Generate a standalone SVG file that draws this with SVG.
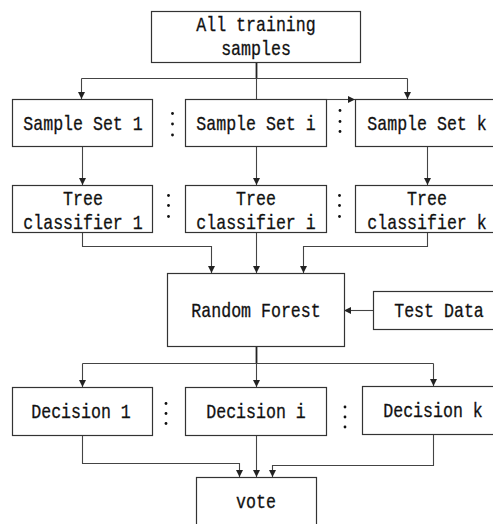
<svg xmlns="http://www.w3.org/2000/svg" width="493" height="524" viewBox="0 0 493 524">
<style>
.box{fill:#fff;stroke:#333;stroke-width:1.2}
.t{font-family:"Liberation Mono",monospace;font-size:20px;fill:#111;stroke:#111;stroke-width:0.3;text-anchor:middle}
.c{fill:none;stroke:#444;stroke-width:1.1}
.s{fill:none;stroke:#222;stroke-width:1.8}
.dot{fill:#111}
</style>
<defs>
<marker id="ah" viewBox="0 0 8 8" refX="8" refY="4" markerWidth="7" markerHeight="7" markerUnits="userSpaceOnUse" orient="auto">
<path d="M0,0 L8,4 L0,8 Z" fill="#222"/>
</marker>
</defs>
<g id="connectors">
<line class="s" x1="256.5" y1="63" x2="256.5" y2="78.5"/>
<line class="c" x1="81.5" y1="78.5" x2="407.5" y2="78.5"/>
<line class="c" x1="81.5" y1="78.5" x2="81.5" y2="99" marker-end="url(#ah)"/>
<line class="c" x1="407.5" y1="78.5" x2="407.5" y2="99" marker-end="url(#ah)"/>
<line class="c" x1="256.5" y1="78.5" x2="256.5" y2="99"/>
<line class="c" x1="327" y1="99.5" x2="355" y2="99.5" marker-end="url(#ah)"/>
<line class="c" x1="82.5" y1="147" x2="82.5" y2="185" marker-end="url(#ah)"/>
<line class="c" x1="256.5" y1="147" x2="256.5" y2="185" marker-end="url(#ah)"/>
<line class="c" x1="427.5" y1="147" x2="427.5" y2="185" marker-end="url(#ah)"/>
<polyline class="c" points="82.5,233 82.5,246.5 211.5,246.5 211.5,273" marker-end="url(#ah)"/>
<line class="c" x1="256.5" y1="233" x2="256.5" y2="273" marker-end="url(#ah)"/>
<polyline class="c" points="427.5,233 427.5,246.5 303.5,246.5 303.5,273" marker-end="url(#ah)"/>
<line class="c" x1="373" y1="310.5" x2="344" y2="310.5" marker-end="url(#ah)"/>
<line class="s" x1="256.5" y1="347" x2="256.5" y2="363.5"/>
<line class="c" x1="82.5" y1="363.5" x2="433.5" y2="363.5"/>
<line class="c" x1="82.5" y1="363.5" x2="82.5" y2="387" marker-end="url(#ah)"/>
<line class="c" x1="256.5" y1="363.5" x2="256.5" y2="387" marker-end="url(#ah)"/>
<line class="c" x1="433.5" y1="363.5" x2="433.5" y2="386" marker-end="url(#ah)"/>
<polyline class="c" points="82.5,436 82.5,463.5 239.5,463.5 239.5,477" marker-end="url(#ah)"/>
<line class="c" x1="256.5" y1="436" x2="256.5" y2="477" marker-end="url(#ah)"/>
<polyline class="c" points="433.5,434 433.5,465.5 272.5,465.5 272.5,477" marker-end="url(#ah)"/>
</g>
<g id="all-training">
<rect class="box" x="151.5" y="11.5" width="209" height="51"/>
<text class="t" transform="translate(256,31) scale(0.83,1)">All training</text>
<text class="t" transform="translate(256,55) scale(0.83,1)">samples</text>
</g>
<g id="sample-set-1">
<rect class="box" x="12.5" y="99.5" width="140" height="47"/>
<text class="t" transform="translate(83,130) scale(0.83,1)">Sample Set 1</text>
</g>
<g id="sample-set-i">
<rect class="box" x="185.5" y="99.5" width="141" height="47"/>
<text class="t" transform="translate(256,130) scale(0.83,1)">Sample Set i</text>
</g>
<g id="sample-set-k">
<rect class="box" x="355.5" y="99.5" width="141" height="47"/>
<text class="t" transform="translate(427,130) scale(0.83,1)">Sample Set k</text>
</g>
<g id="tree-1">
<rect class="box" x="12.5" y="185.5" width="140" height="47"/>
<text class="t" transform="translate(83,205) scale(0.83,1)">Tree</text>
<text class="t" transform="translate(83,229) scale(0.83,1)">classifier 1</text>
</g>
<g id="tree-i">
<rect class="box" x="185.5" y="185.5" width="141" height="47"/>
<text class="t" transform="translate(256,205) scale(0.83,1)">Tree</text>
<text class="t" transform="translate(256,229) scale(0.83,1)">classifier i</text>
</g>
<g id="tree-k">
<rect class="box" x="355.5" y="185.5" width="141" height="47"/>
<text class="t" transform="translate(427,205) scale(0.83,1)">Tree</text>
<text class="t" transform="translate(427,229) scale(0.83,1)">classifier k</text>
</g>
<g id="random-forest">
<rect class="box" x="167.5" y="273.5" width="177" height="73"/>
<text class="t" transform="translate(256,317) scale(0.83,1)">Random Forest</text>
</g>
<g id="test-data">
<rect class="box" x="373.5" y="291.5" width="125" height="38"/>
<text class="t" transform="translate(439,317) scale(0.83,1)">Test Data</text>
</g>
<g id="decision-1">
<rect class="box" x="12.5" y="387.5" width="140" height="48"/>
<text class="t" transform="translate(81,418) scale(0.83,1)">Decision 1</text>
</g>
<g id="decision-i">
<rect class="box" x="185.5" y="387.5" width="141" height="48"/>
<text class="t" transform="translate(256,418) scale(0.83,1)">Decision i</text>
</g>
<g id="decision-k">
<rect class="box" x="362.5" y="386.5" width="135" height="48"/>
<text class="t" transform="translate(433,417) scale(0.83,1)">Decision k</text>
</g>
<g id="vote">
<rect class="box" x="196.5" y="477.5" width="120" height="55"/>
<text class="t" transform="translate(256,508) scale(0.83,1)">vote</text>
</g>
<g id="ellipses">
<circle class="dot" cx="172.5" cy="113.5" r="1.4"/><circle class="dot" cx="172.5" cy="124" r="1.4"/><circle class="dot" cx="172.5" cy="135" r="1.4"/>
<circle class="dot" cx="340" cy="110.5" r="1.4"/><circle class="dot" cx="340" cy="121.5" r="1.4"/><circle class="dot" cx="340" cy="131.5" r="1.4"/>
<circle class="dot" cx="168.5" cy="195.5" r="1.4"/><circle class="dot" cx="168.5" cy="205.5" r="1.4"/><circle class="dot" cx="168.5" cy="216.5" r="1.4"/>
<circle class="dot" cx="339.5" cy="195.5" r="1.4"/><circle class="dot" cx="339.5" cy="205.5" r="1.4"/><circle class="dot" cx="339.5" cy="216.5" r="1.4"/>
<circle class="dot" cx="166" cy="403.5" r="1.4"/><circle class="dot" cx="166" cy="413.5" r="1.4"/><circle class="dot" cx="166" cy="423.5" r="1.4"/>
<circle class="dot" cx="345" cy="407" r="1.4"/><circle class="dot" cx="345" cy="417" r="1.4"/><circle class="dot" cx="345" cy="427" r="1.4"/>
</g>
</svg>
